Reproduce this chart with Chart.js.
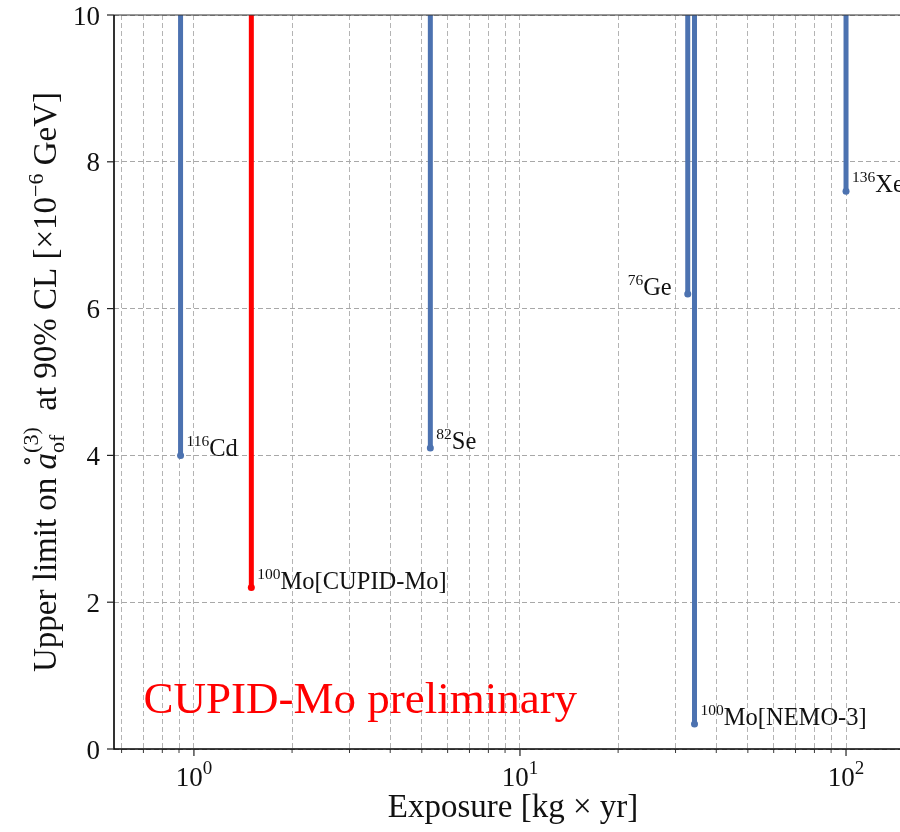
<!DOCTYPE html>
<html><head><meta charset="utf-8">
<script src="https://cdn.jsdelivr.net/npm/chart.js@4.4.0/dist/chart.umd.min.js"></script>
<style>html,body{margin:0;padding:0;background:#fff;overflow:hidden}canvas{display:block}</style>
</head><body>
<canvas id="c" width="900" height="832"></canvas>
<script>
// ---------- data ----------
const massNumbers   = ['116', '100', '82', '76', '100', '136'];
const elementLabels = ['Cd', 'Mo[CUPID-Mo]', 'Se', 'Ge', 'Mo[NEMO-3]', 'Xe'];
const exposures     = [0.91, 1.5, 5.31, 32.7, 34.3, 100];   // kg x yr
const upperLimits   = [4.0, 2.2, 4.1, 6.2, 0.34, 7.6];      // x1e-6 GeV
const xMajorTicks   = [1, 10, 100];
const xMajorExps    = ['0', '1', '2'];
const xMinorTicks   = [0.6, 0.7, 0.8, 0.9, 2, 3, 4, 5, 6, 7, 8, 9, 20, 30, 40, 50, 60, 70, 80, 90];
const yTicks        = [0, 2, 4, 6, 8, 10];
const xRange        = [0.5687, 146.4];
const yRange        = [0, 10];
const watermarkText = 'CUPID-Mo preliminary';
const watermarkPos  = [0.70, 0.49];

// ---------- style ----------
const FONT = '"Liberation Serif", "DejaVu Serif", serif';
const BLUE = '#4c72b0', RED = '#ff0000';
const highlightIndex = 1;
const rightAligned = [3];

function fontOf(p) { return (p.it ? 'italic ' : '') + p.px + 'px ' + FONT; }
function drawRich(ctx, parts, x0, y0, align, color) {
  const items = []; let cx = 0, hold = null;
  for (const p of parts) {
    ctx.font = fontOf(p);
    const w = ctx.measureText(p.t).width;
    if (p.over) { const prev = items[items.length - 1]; items.push({p, x: prev.x + prev.w / 2 - w / 2 + (p.dx || 0), w}); continue; }
    if (hold) { items.push({p, x: hold.x, w}); cx = hold.x + Math.max(hold.w, w); hold = null; continue; }
    items.push({p, x: cx, w});
    if (p.stack) hold = {x: cx, w}; else cx += w;
  }
  const off = align === 'center' ? -cx / 2 : align === 'right' ? -cx : 0;
  ctx.fillStyle = color || '#111';
  ctx.textBaseline = 'alphabetic'; ctx.textAlign = 'left';
  for (const it of items) { ctx.font = fontOf(it.p); ctx.fillText(it.p.t, x0 + off + it.x, y0 + (it.p.dy || 0)); }
  return cx;
}

const datasets = exposures.map((x, i) => {
  const col = i === highlightIndex ? RED : BLUE;
  return {
    label: massNumbers[i] + elementLabels[i],
    data: [{x: x, y: upperLimits[i]}, {x: x, y: yRange[1]}],
    borderColor: col, backgroundColor: col,
    borderWidth: 5, pointRadius: [3.5, 0], pointHoverRadius: 0,
    pointBackgroundColor: col, pointBorderWidth: 0,
    showLine: true, fill: false
  };
});

const decor = {
  id: 'decor',
  afterDraw(chart) {
    const ctx = chart.ctx, a = chart.chartArea;
    const xs = chart.scales.x, ys = chart.scales.y;
    ctx.save();
    // spines
    ctx.strokeStyle = '#333'; ctx.lineWidth = 1.2;
    ctx.beginPath(); ctx.moveTo(a.left, a.top); ctx.lineTo(a.right, a.top); ctx.stroke();
    ctx.strokeStyle = '#000'; ctx.lineWidth = 1.6;
    ctx.beginPath(); ctx.moveTo(a.left, a.top); ctx.lineTo(a.left, a.bottom); ctx.lineTo(a.right, a.bottom); ctx.stroke();
    // y ticks + labels
    ctx.lineWidth = 1.2; ctx.strokeStyle = '#222';
    yTicks.forEach(v => {
      const py = ys.getPixelForValue(v);
      ctx.beginPath(); ctx.moveTo(a.left - 7, py); ctx.lineTo(a.left, py); ctx.stroke();
      drawRich(ctx, [{t: String(v), px: 27}], a.left - 14, py + 9.5, 'right', '#111');
    });
    // x ticks
    xMinorTicks.forEach(v => {
      const px = xs.getPixelForValue(v);
      ctx.lineWidth = 0.9;
      ctx.beginPath(); ctx.moveTo(px, a.bottom); ctx.lineTo(px, a.bottom + 4); ctx.stroke();
    });
    xMajorTicks.forEach((v, i) => {
      const px = xs.getPixelForValue(v);
      ctx.lineWidth = 1.2;
      ctx.beginPath(); ctx.moveTo(px, a.bottom); ctx.lineTo(px, a.bottom + 7); ctx.stroke();
      drawRich(ctx, [{t: '10', px: 27}, {t: xMajorExps[i], px: 19, dy: -12}], px, a.bottom + 37, 'center', '#111');
    });
    // axis titles
    drawRich(ctx, [{t: 'Exposure [kg \u00d7 yr]', px: 33}], (a.left + a.right) / 2 + 6, a.bottom + 68, 'center', '#111');
    ctx.save();
    ctx.translate(56, (a.top + a.bottom) / 2);
    ctx.rotate(-Math.PI / 2);
    drawRich(ctx, [
      {t: 'Upper limit on ', px: 33},
      {t: 'a', px: 33, it: true},
      {t: '\u2218', px: 22, dy: -22, over: true},
      {t: '(3)', px: 22, dy: -18, stack: true},
      {t: 'of', px: 22, dy: 8},
      {t: '  at 90% CL [\u00d710', px: 33},
      {t: '\u22126', px: 22, dy: -13},
      {t: ' GeV]', px: 33}
    ], 0, 0, 'center', '#111');
    ctx.restore();
    // point annotations
    exposures.forEach((x, i) => {
      const px = xs.getPixelForValue(x), py = ys.getPixelForValue(upperLimits[i]);
      const parts = [{t: massNumbers[i], px: 15.5, dy: -10}, {t: elementLabels[i], px: 24.5}];
      if (rightAligned.includes(i)) drawRich(ctx, parts, px - 16, py + 1, 'right', '#111');
      else drawRich(ctx, parts, px + 6, py + 1, 'left', '#111');
    });
    // watermark
    drawRich(ctx, [{t: watermarkText, px: 45}], xs.getPixelForValue(watermarkPos[0]), ys.getPixelForValue(watermarkPos[1]), 'left', RED);
    ctx.restore();
  }
};

new Chart(document.getElementById('c'), {
  type: 'scatter',
  data: {datasets},
  options: {
    responsive: false, devicePixelRatio: 1, animation: false,
    layout: {autoPadding: false, padding: {top: 15, right: 0, left: 0, bottom: 0}},
    plugins: {legend: {display: false}, tooltip: {enabled: false}},
    events: [],
    scales: {
      x: {
        type: 'logarithmic', min: xRange[0], max: xRange[1],
        afterBuildTicks: s => { s.ticks = xMinorTicks.concat(xMajorTicks).sort((p, q) => p - q).map(v => ({value: v})); },
        afterFit: s => { s.height = 83; },
        ticks: {display: false},
        grid: {color: '#b4b4b4', lineWidth: 1, drawTicks: false},
        border: {display: false, dash: [5, 3]}
      },
      y: {
        type: 'linear', min: yRange[0], max: yRange[1],
        afterBuildTicks: s => { s.ticks = yTicks.map(v => ({value: v})); },
        afterFit: s => { s.width = 114; },
        ticks: {display: false},
        grid: {color: '#a8a8a8', lineWidth: 1, drawTicks: false},
        border: {display: false, dash: [5, 3]}
      }
    }
  },
  plugins: [decor]
});
</script>
</body></html>
